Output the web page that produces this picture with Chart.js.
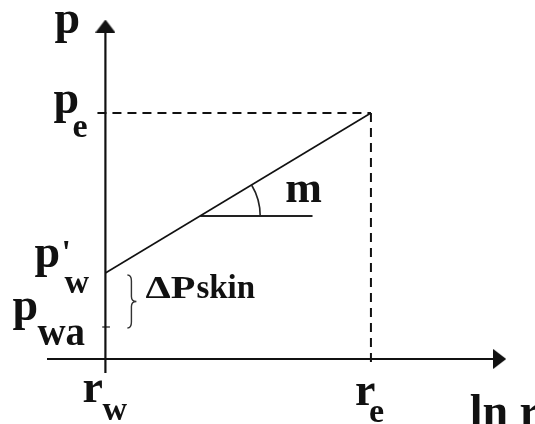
<!DOCTYPE html>
<html>
<head>
<meta charset="utf-8">
<script src="https://cdn.jsdelivr.net/npm/chart.js@4.4.1/dist/chart.umd.min.js"></script>
<style>
  html, body { margin: 0; padding: 0; background: #fff; }
</style>
</head>
<body>
<canvas id="pressureChart" width="535" height="424"></canvas>
<script>
// ln r positions: wellbore radius rw and outer radius re
const lnRadii = [0, 1]
// pressure on the straight line: p'w at rw, pe at re
const linePressures = [0.86, 2.46]
// actual flowing pressure at the well, below p'w by the skin drop
const pwa = 0.32
// horizontal reference under the slope m
const slopeRefX = [0.357, 0.78]
const slopeRefP = 1.43
// axis extents
const xAxisExtent = [-0.22, 1.485]
const pAxisExtent = [-0.14, 3.33]

const ink = '#111'
const serif = '"Liberation Serif", "Times New Roman", serif'

function arrowHead(w, h) {
  const c = document.createElement('canvas')
  c.width = w
  c.height = h
  const g = c.getContext('2d')
  g.fillStyle = ink
  g.beginPath()
  g.moveTo(w / 2, 0)
  g.lineTo(w, h)
  g.lineTo(0, h)
  g.closePath()
  g.fill()
  return c
}
const arrow = arrowHead(20, 13)

// arrow only on the last point of an axis line
const tipRadius = (ctx) => ctx.dataIndex === 1 ? 6 : 0

const re = lnRadii[1], rw = lnRadii[0]
const pwPrime = linePressures[0], pe = linePressures[1]

const datasets = [
  { // ln r axis
    data: xAxisExtent.map((x) => ({ x, y: 0 })),
    borderColor: ink, borderWidth: 2.2,
    pointStyle: arrow, pointRotation: 90, pointRadius: tipRadius
  },
  { // p axis
    data: pAxisExtent.map((y) => ({ x: 0, y })),
    borderColor: ink, borderWidth: 2.2,
    pointStyle: arrow, pointRadius: tipRadius
  },
  { // semilog straight line p vs ln r
    data: lnRadii.map((x, i) => ({ x, y: linePressures[i] })),
    borderColor: ink, borderWidth: 1.6, pointRadius: 0
  },
  { // pe level
    data: [{ x: rw - 0.03, y: pe }, { x: re, y: pe }],
    borderColor: ink, borderWidth: 2, borderDash: [9, 6], pointRadius: 0
  },
  { // re drop line
    data: [{ x: re, y: pe }, { x: re, y: -0.08 }],
    borderColor: ink, borderWidth: 2, borderDash: [9, 6], pointRadius: 0
  },
  { // pwa mark on the p axis
    data: [{ x: rw - 0.012, y: pwa }, { x: rw + 0.017, y: pwa }],
    borderColor: '#444', borderWidth: 1.5, pointRadius: 0
  },
  { // slope reference
    data: slopeRefX.map((x) => ({ x, y: slopeRefP })),
    borderColor: '#222', borderWidth: 2, pointRadius: 0
  }
]

const annotations = {
  id: 'annotations',
  afterDatasetsDraw(chart) {
    const { ctx, scales: { x, y } } = chart
    const X0 = x.getPixelForValue(rw)
    const Xe = x.getPixelForValue(re)
    const Y0 = y.getPixelForValue(0)
    const Ye = y.getPixelForValue(pe)
    const Yw = y.getPixelForValue(pwPrime)
    const Ya = y.getPixelForValue(pwa)
    const Ytop = y.getPixelForValue(pAxisExtent[1])
    const Xend = x.getPixelForValue(xAxisExtent[1])

    ctx.save()
    ctx.strokeStyle = '#222'
    ctx.lineWidth = 1.6

    // angle arc for the slope m
    const cx = x.getPixelForValue(slopeRefX[0])
    const cy = y.getPixelForValue(slopeRefP)
    const angle = Math.atan2(Yw - Ye, Xe - X0)
    ctx.beginPath()
    ctx.arc(cx, cy, 60, -angle, 0)
    ctx.stroke()

    // brace for the skin pressure drop
    const bx = X0 + 22, top = Yw + 2, bot = Ya + 1, mid = (top + bot) / 2
    ctx.strokeStyle = '#333'
    ctx.lineWidth = 1.4
    ctx.beginPath()
    ctx.moveTo(bx, top)
    ctx.quadraticCurveTo(bx + 4, top, bx + 4, top + 6)
    ctx.lineTo(bx + 4, mid - 5)
    ctx.quadraticCurveTo(bx + 4, mid, bx + 9, mid)
    ctx.quadraticCurveTo(bx + 4, mid, bx + 4, mid + 5)
    ctx.lineTo(bx + 4, bot - 6)
    ctx.quadraticCurveTo(bx + 4, bot, bx, bot)
    ctx.stroke()

    ctx.fillStyle = ink
    ctx.textBaseline = 'alphabetic'
    const big = (t, px, py) => { ctx.font = `bold 46px ${serif}`; ctx.fillText(t, px, py) }
    const sub = (t, px, py, size = 34) => { ctx.font = `bold ${size}px ${serif}`; ctx.fillText(t, px, py) }

    big('p', X0 - 51, Ytop + 7)
    big('p', X0 - 52, Ye)
    sub('e', X0 - 33, Ye + 24)

    big('p', X0 - 71, Yw - 6)
    sub("'", X0 - 44, Yw - 10)
    sub('w', X0 - 41, Yw + 20)

    big('p', X0 - 93, Ya - 7)
    sub('wa', X0 - 68, Ya + 18, 39)

    // skin drop label: wide delta-P, then the subscript word
    const ly = (Yw + Ya) / 2 - 2
    ctx.save()
    ctx.translate(bx + 18, ly)
    ctx.scale(1.3, 1)
    ctx.font = `bold 31px ${serif}`
    ctx.fillText('\u0394P', 0, 0)
    ctx.restore()
    sub('skin', bx + 69, ly, 33)

    ctx.font = `bold 44px ${serif}`
    ctx.fillText('m', cx + 85, cy - 14)

    big('r', X0 - 23, Y0 + 43)
    sub('w', X0 - 3, Y0 + 61)
    big('r', Xe - 16, Y0 + 46)
    sub('e', Xe - 2, Y0 + 63)

    big('ln r', Xend - 30, Y0 + 67)
    ctx.restore()
  }
}

new Chart(document.getElementById('pressureChart'), {
  type: 'scatter',
  data: { datasets: datasets.map((d) => ({ showLine: true, clip: false, ...d })) },
  options: {
    responsive: false,
    animation: false,
    layout: { padding: { left: 47, right: 26, top: 14, bottom: 15 } },
    plugins: { legend: { display: false }, tooltip: { enabled: false } },
    scales: {
      x: { type: 'linear', display: false, min: -0.22, max: 1.52 },
      y: { type: 'linear', display: false, min: -0.5, max: 3.45 }
    }
  },
  plugins: [annotations]
})
</script>
</body>
</html>
